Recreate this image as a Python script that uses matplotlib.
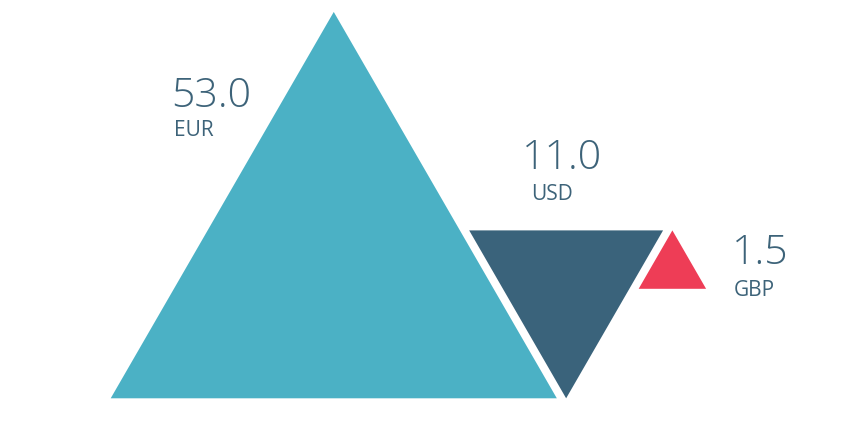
import numpy as np
import matplotlib
matplotlib.use("Agg")
import matplotlib.pyplot as plt
from matplotlib.patches import Polygon

# Currency shares
currencies = ["EUR", "USD", "GBP"]
values = [53.0, 11.0, 1.5]
colors = ["#4bb1c5", "#3a637b", "#ee3d56"]
text_color = "#3d6379"

W, H = 848, 425
fig = plt.figure(figsize=(W / 100, H / 100), dpi=100)
ax = fig.add_axes([0, 0, 1, 1])
ax.set_xlim(0, W)
ax.set_ylim(H, 0)
ax.axis("off")

# triangle side grows with a power of the value (close to area scaling)
scale, power = 54.4, 0.53
sides = [scale * v ** power for v in values]
heights = [s * np.sqrt(3) / 2 for s in sides]

base_y = 398.3
x0 = 110.7
gap = 9.3

# EUR: upward triangle
s1, h1 = sides[0], heights[0]
eur = [(x0, base_y), (x0 + s1, base_y), (x0 + s1 / 2, base_y - h1)]
# USD: downward triangle, apex on the baseline next to EUR
s2, h2 = sides[1], heights[1]
ax_usd = x0 + s1 + gap
usd = [(ax_usd - s2 / 2, base_y - h2), (ax_usd + s2 / 2, base_y - h2), (ax_usd, base_y)]
# GBP: small upward triangle, apex level with USD's top edge
s3, h3 = sides[2], heights[2]
ax_gbp = ax_usd + s2 / 2 + gap
top3 = base_y - h2
gbp = [(ax_gbp, top3), (ax_gbp + s3 / 2, top3 + h3), (ax_gbp - s3 / 2, top3 + h3)]

for pts, c in zip([eur, usd, gbp], colors):
    ax.add_patch(Polygon(pts, closed=True, facecolor=c, edgecolor="none"))

# value + currency labels (left edge, number baseline, code baseline)
label_pos = [(171.0, 106.7, 136.0), (522.0, 169.3, 200.0), (731.5, 264.3, 296.0)]
code_dx = [2.5, 9.5, 2.0]
family = ["Open Sans", "DejaVu Sans"]
for (lx, ny, cy), dx, v, cur in zip(label_pos, code_dx, values, currencies):
    ax.text(lx, ny, f"{v:.1f}", fontsize=29.5, color=text_color, family=family,
            fontweight="light", ha="left", va="baseline")
    ax.text(lx + dx, cy, cur, fontsize=15, color=text_color, family=family,
            fontweight="medium", ha="left", va="baseline")

fig.savefig("out.png", dpi=100, facecolor="white")
